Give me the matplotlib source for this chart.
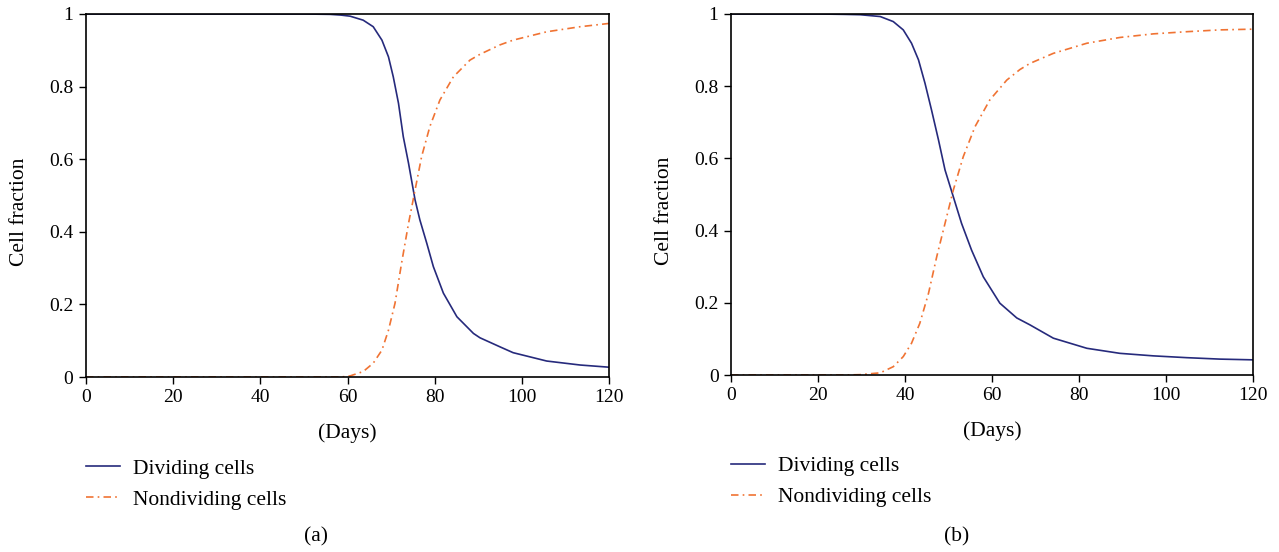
import matplotlib
matplotlib.use("Agg")
import matplotlib.pyplot as plt

# Panel (a)
days_a_div = [0, 20, 40, 50, 56, 58.5, 60.6, 63.6, 65.9, 67.9, 69.4, 70.5, 71.7, 72.8, 74.0, 75.5, 76.6,
              78.2, 79.7, 82, 85.1, 88.9, 90.4, 95, 98, 105.7, 113.4, 120]
div_a = [1.0, 1.0, 1.0, 1.0, 0.999, 0.997, 0.994, 0.983, 0.965, 0.928, 0.882, 0.827, 0.754, 0.662, 0.589,
         0.488, 0.433, 0.368, 0.304, 0.231, 0.166, 0.12, 0.108, 0.083, 0.067, 0.044, 0.033, 0.027]
days_a_non = [0, 20, 40, 50, 56, 58.5, 60.6, 63.6, 65.9, 67.9, 69.4, 70.9, 72.4, 74.0, 75.5, 77.0, 78.9,
              81.2, 84.3, 88.1, 90.4, 95, 98, 105.7, 113.4, 120]
non_a = [0.0, 0.0, 0.0, 0.0, 0.0, 0.0, 0.003, 0.015, 0.038, 0.074, 0.129, 0.203, 0.313, 0.423, 0.515, 0.607,
         0.69, 0.763, 0.827, 0.873, 0.889, 0.915, 0.928, 0.951, 0.965, 0.974]

# Panel (b)
days_b_div = [0, 20, 26, 29.7, 34.3, 37.3, 39.6, 41.5, 43.1, 44.6, 46.1, 47.7, 49.2, 51.1, 53.0, 55.3,
              58, 61.8, 65.7, 68.7, 74.1, 81.8, 89.4, 97.1, 104.8, 112.4, 120]
div_b = [1.0, 1.0, 0.999, 0.998, 0.993, 0.979, 0.956, 0.919, 0.873, 0.808, 0.734, 0.651, 0.568, 0.494,
         0.42, 0.346, 0.272, 0.199, 0.158, 0.139, 0.102, 0.074, 0.06, 0.053, 0.048, 0.044, 0.042]
days_b_non = [0, 20, 26, 29.7, 34.3, 37.3, 39.6, 41.5, 43.4, 45.4, 47.3, 49.2, 51.1, 53.4, 56.1, 59.5,
              63.4, 66.4, 68.7, 74.1, 81.8, 89.4, 97.1, 104.8, 112.4, 120]
non_b = [0.0, 0.0, 0.0, 0.001, 0.006, 0.023, 0.051, 0.088, 0.143, 0.226, 0.328, 0.42, 0.512, 0.605, 0.688,
         0.762, 0.817, 0.846, 0.863, 0.891, 0.919, 0.935, 0.945, 0.951, 0.956, 0.958]

x_ticks = [0, 20, 40, 60, 80, 100, 120]
y_ticks = [0, 0.2, 0.4, 0.6, 0.8, 1.0]
y_ticklabels = ["0", "0.2", "0.4", "0.6", "0.8", "1"]
labels = ["Dividing cells", "Nondividing cells"]
captions = ["(a)", "(b)"]

blue = "#262a7c"
orange = "#f07333"
plt.rcParams['font.family'] = ['Liberation Serif', 'DejaVu Serif']
fs_tick = 14
fs = 15.5

fig = plt.figure(figsize=(12.79, 5.52), dpi=100)
ax_a = fig.add_axes([86/1279, 1-377/552, 523/1279, 363/552])
ax_b = fig.add_axes([731/1279, 1-375/552, 522/1279, 361/552])

panels = [
    (ax_a, days_a_div, div_a, days_a_non, non_a),
    (ax_b, days_b_div, div_b, days_b_non, non_b),
]
for ax, dd, dv, nd, nv in panels:
    ax.plot(dd, dv, color=blue, lw=1.2, label=labels[0])
    ax.plot(nd, nv, color=orange, lw=1.2, linestyle=(0, (4.5, 2.5, 1, 2.5)), label=labels[1])
    ax.set_xlim(0, 120)
    ax.set_ylim(0, 1)
    ax.set_xticks(x_ticks)
    ax.set_yticks(y_ticks)
    ax.set_yticklabels(y_ticklabels)
    ax.tick_params(direction='out', length=5, width=1, labelsize=fs_tick, pad=4)
    for s in ax.spines.values():
        s.set_linewidth(1.2)
    ax.set_xlabel("(Days)", fontsize=fs)
    ax.set_ylabel("Cell fraction", fontsize=fs)
    ax.xaxis.set_label_coords(0.5, -0.155, transform=ax.transAxes)
    ax.xaxis.label.set_va('center')
    ax.yaxis.set_label_coords(-0.127, 0.455, transform=ax.transAxes)
    ax.yaxis.label.set_va('center')
    ax.legend(loc='upper left', bbox_to_anchor=(0.0, -0.225), frameon=False,
              fontsize=fs, handlelength=1.6, handletextpad=0.6, labelspacing=0.5,
              borderaxespad=0, borderpad=0)

fig.text(316/1279, 1-537/552, captions[0], ha='center', va='center', fontsize=fs)
fig.text(957/1279, 1-537/552, captions[1], ha='center', va='center', fontsize=fs)

fig.savefig("out.png", dpi=100)
